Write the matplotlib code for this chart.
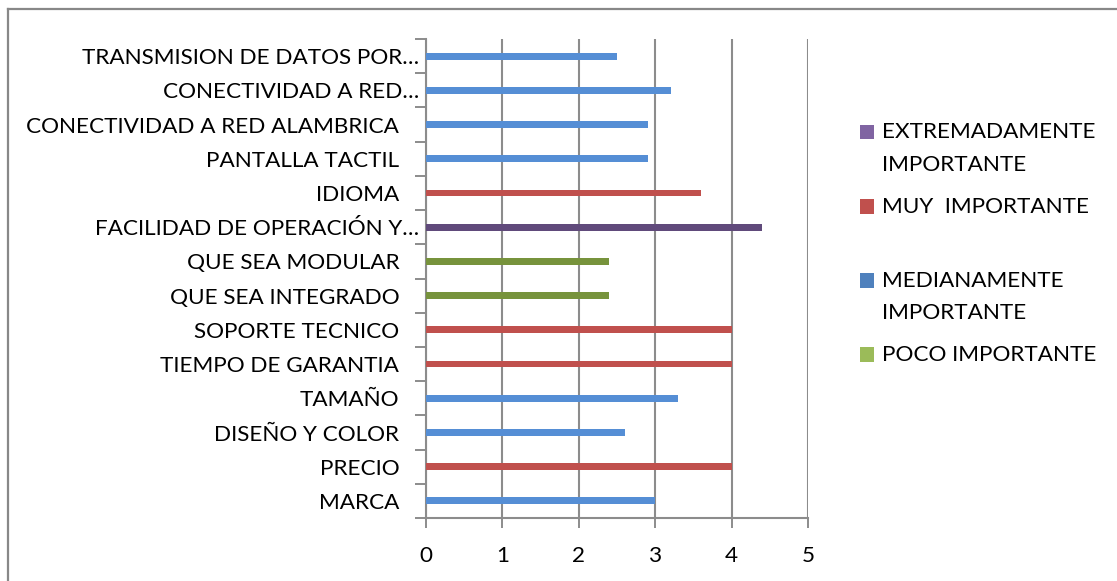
import matplotlib
matplotlib.use("Agg")
import matplotlib.pyplot as plt
from matplotlib.patches import Rectangle
from matplotlib.lines import Line2D
from matplotlib.transforms import offset_copy, blended_transform_factory
import numpy as np

# Features, bottom to top
categories = [
    "MARCA", "PRECIO", "DISEÑO Y COLOR", "TAMAÑO", "TIEMPO DE GARANTIA",
    "SOPORTE TECNICO", "QUE SEA INTEGRADO", "QUE SEA MODULAR",
    "FACILIDAD DE OPERACIÓN Y…", "IDIOMA", "PANTALLA TACTIL",
    "CONECTIVIDAD A RED ALAMBRICA", "CONECTIVIDAD A RED…",
    "TRANSMISION DE DATOS POR…",
]
scores = [3.0, 4.0, 2.6, 3.3, 4.0, 4.0, 2.4, 2.4, 4.4, 3.6, 2.9, 2.9, 3.2, 2.5]

# Importance level of each feature (index into series_names)
series_names = ["EXTREMADAMENTE\nIMPORTANTE", "MUY  IMPORTANTE",
                "MEDIANAMENTE\nIMPORTANTE", "POCO IMPORTANTE"]
levels = [2, 1, 2, 2, 1, 1, 3, 3, 0, 1, 2, 2, 2, 2]

bar_colors = ["#604A7B", "#C0504D", "#558ED5", "#77933C"]
key_colors = ["#8064A2", "#C0504D", "#4F81BD", "#9BBB59"]
x_ticks = [0, 1, 2, 3, 4, 5]

FONT = "Lato"
FS = 16.2
GRID = "#8C8C8C"

W, H = 1117, 581
fig = plt.figure(figsize=(W / 100, H / 100), dpi=100)
fig.patch.set_facecolor("white")

ax = fig.add_axes([425.7 / W, 1 - 518 / H, (808.3 - 425.7) / W, (518 - 39) / H])

y = np.arange(len(categories))
scores_arr = np.array(scores)
levels_arr = np.array(levels)
for s, color in enumerate(bar_colors):
    mask = levels_arr == s
    ax.barh(y[mask], scores_arr[mask], height=0.2, color=color, zorder=3)

ax.set_xlim(0, 5)
ax.set_ylim(-0.5, len(categories) - 0.5)
ax.set_xticks(x_ticks)
ax.set_xticklabels([str(t) for t in x_ticks], fontfamily=FONT, fontsize=FS)
ax.tick_params(axis="x", length=7, width=1.4, color=GRID, pad=13)
ax.xaxis.grid(True, color=GRID, linewidth=1.5, zorder=0)

# Category boundary ticks on the y axis; labels drawn separately
ax.set_yticks(np.arange(len(categories) + 1) - 0.5)
ax.set_yticklabels([])
ax.tick_params(axis="y", length=8, width=1.4, color=GRID)

tr = blended_transform_factory(ax.transAxes, ax.transData)
for yi, name in zip(y, categories):
    off = -5 if name.endswith("…") else -19
    ax.text(0, yi, name, transform=offset_copy(tr, fig=fig, x=off, y=-1.5, units="points"),
            ha="right", va="center", fontfamily=FONT, fontsize=FS, color="black")

for side in ("top", "right"):
    ax.spines[side].set_visible(False)
for side in ("left", "bottom"):
    ax.spines[side].set_color(GRID)
    ax.spines[side].set_linewidth(1.5)

# Legend
key_x = 859.5
text_x = 882
first_y = 132
step = 74.2
for i, (name, color) in enumerate(zip(series_names, key_colors)):
    cy = first_y + i * step
    fig.patches.append(Rectangle((key_x / W, 1 - (cy + 7.3) / H), 14.7 / W, 14.7 / H,
                                 transform=fig.transFigure, facecolor=color,
                                 edgecolor="none"))
    fig.text(text_x / W, 1 - (cy - 9.5) / H, name, ha="left", va="top",
             fontfamily=FONT, fontsize=FS, linespacing=1.78, color="black")

# Chart frame
fig.lines.append(Line2D([8 / W, 1], [1 - 9 / H, 1 - 9 / H], transform=fig.transFigure,
                        color="#888888", linewidth=1.6))
fig.lines.append(Line2D([8 / W, 8 / W], [0, 1 - 9 / H], transform=fig.transFigure,
                        color="#888888", linewidth=1.6))

fig.savefig("out.png", dpi=100)
